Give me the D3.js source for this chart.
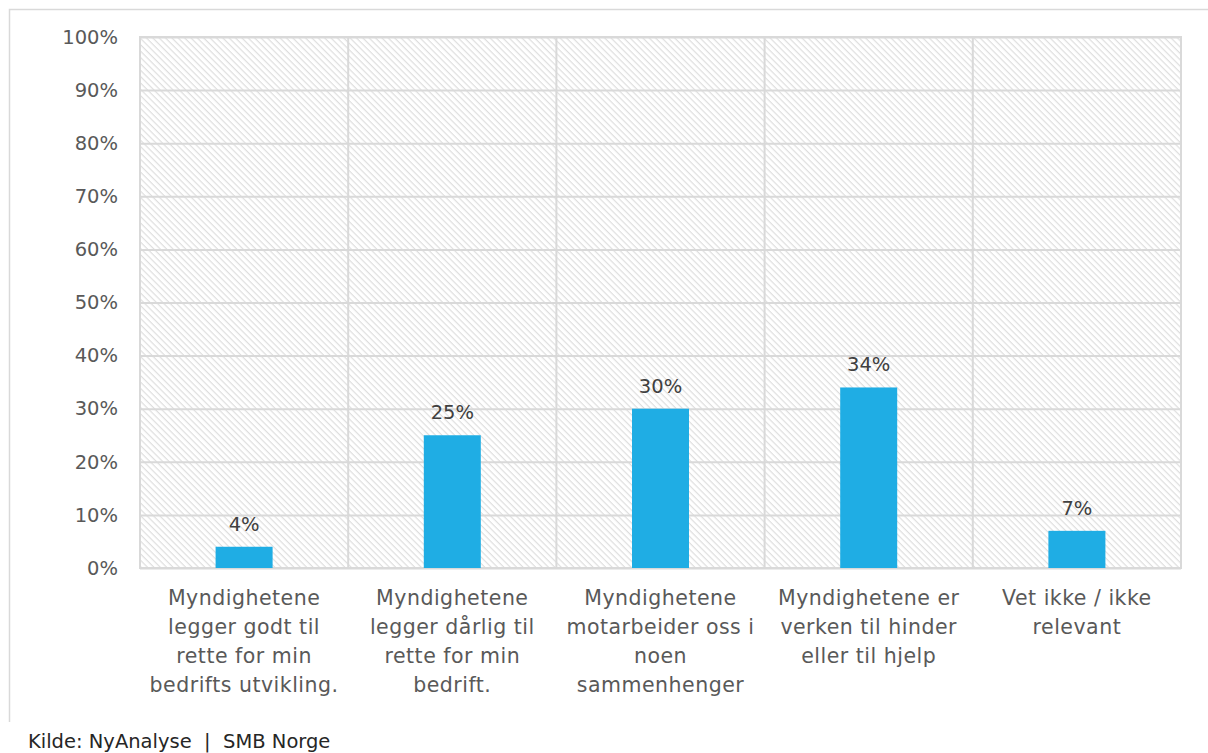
<!DOCTYPE html>
<html>
<head>
<meta charset="utf-8">
<script src="https://cdn.jsdelivr.net/npm/d3@7"></script>
<style>
  body { margin: 0; background: #fff; }
  #chart { width: 1208px; height: 753px; }
</style>
</head>
<body>
<div id="chart"></div>
<script>
// data
const categories = [
    ["Myndighetene", "legger godt til", "rette for min", "bedrifts utvikling."],
    ["Myndighetene", "legger dårlig til", "rette for min", "bedrift."],
    ["Myndighetene", "motarbeider oss i", "noen", "sammenhenger"],
    ["Myndighetene er", "verken til hinder", "eller til hjelp"],
    ["Vet ikke / ikke", "relevant"]
];
const values = [4, 25, 30, 34, 7];
const yTicks = [0, 10, 20, 30, 40, 50, 60, 70, 80, 90, 100];
const source = "Kilde: NyAnalyse  |  SMB Norge";

let divWidth = 1208, divHeight = 753;
let margin = { top: 37, left: 140, right: 27, bottom: 185 };
let width = divWidth - margin.left - margin.right;
let height = divHeight - margin.top - margin.bottom;
const font = "'DejaVu Sans', sans-serif";

let svg = d3.select("#chart").append("svg")
    .attr("width", divWidth)
    .attr("height", divHeight);

// hatch pattern (wide downward diagonal)
let defs = svg.append("defs");
let pat = defs.append("pattern")
    .attr("id", "hatch")
    .attr("patternUnits", "userSpaceOnUse")
    .attr("width", 4.5).attr("height", 4.5)
    .attr("patternTransform", "rotate(45)");
pat.append("rect").attr("width", 4.5).attr("height", 4.5).attr("fill", "#fff");
pat.append("line")
    .attr("x1", 0).attr("y1", 0.6).attr("x2", 4.5).attr("y2", 0.6)
    .attr("stroke", "#dedede").attr("stroke-width", 1.2);

// outer frame
svg.append("path")
    .attr("d", `M9.5,722 V9.5 H${divWidth}`)
    .attr("fill", "none")
    .attr("stroke", "#d9d9d9")
    .attr("stroke-width", 1.5);

let g = svg.append("g").attr("transform", `translate(${margin.left},${margin.top})`);

let x = d3.scaleBand().domain(d3.range(values.length)).range([0, width]).paddingInner(0).paddingOuter(0);
let y = d3.scaleLinear().domain([0, 100]).range([height, 0]);

g.append("rect")
    .attr("width", width).attr("height", height)
    .attr("fill", "url(#hatch)");

// gridlines
g.append("g")
    .call(d3.axisLeft(y).tickValues(yTicks).tickSize(-width).tickFormat(""))
    .call(a => a.select(".domain").remove())
    .call(a => a.selectAll("line").attr("stroke", "#d9d9d9").attr("stroke-width", 2));

g.append("g")
    .selectAll("line")
    .data(d3.range(1, values.length))
    .join("line")
    .attr("x1", d => x(d)).attr("x2", d => x(d))
    .attr("y1", 0).attr("y2", height)
    .attr("stroke", "#d9d9d9").attr("stroke-width", 2);

g.append("rect")
    .attr("width", width).attr("height", height)
    .attr("fill", "none")
    .attr("stroke", "#d9d9d9").attr("stroke-width", 2);

// y axis labels
g.append("g")
    .call(d3.axisLeft(y).tickValues(yTicks).tickSize(0).tickPadding(22).tickFormat(d => d + "%"))
    .call(a => a.select(".domain").remove())
    .call(a => a.selectAll("text")
        .attr("fill", "#595959")
        .attr("font-family", font)
        .attr("font-size", 19.5));

// bars
const barW = 57;
g.selectAll(".bar")
    .data(values)
    .join("rect")
    .attr("class", "bar")
    .attr("x", (d, i) => x(i) + x.bandwidth() / 2 - barW / 2)
    .attr("y", d => y(d))
    .attr("width", barW)
    .attr("height", d => height - y(d))
    .attr("fill", "#1fade4");

g.selectAll(".val")
    .data(values)
    .join("text")
    .attr("class", "val")
    .attr("x", (d, i) => x(i) + x.bandwidth() / 2)
    .attr("y", d => y(d) - 16)
    .attr("text-anchor", "middle")
    .attr("fill", "#404040")
    .attr("font-family", font)
    .attr("font-size", 19.5)
    .text(d => d + "%");

// category labels
let cat = g.selectAll(".cat")
    .data(categories)
    .join("text")
    .attr("class", "cat")
    .attr("text-anchor", "middle")
    .attr("fill", "#595959")
    .attr("font-family", font)
    .attr("font-size", 20.5)
    .attr("letter-spacing", 0.5);
cat.selectAll("tspan")
    .data((d, i) => d.map(t => ({ t, i })))
    .join("tspan")
    .attr("x", d => x(d.i) + x.bandwidth() / 2)
    .attr("y", (d, j) => height + 37 + j * 29)
    .text(d => d.t);

svg.append("text")
    .attr("x", 28)
    .attr("y", 748)
    .attr("fill", "#262626")
    .attr("font-family", font)
    .attr("font-size", 19.5)
    .attr("xml:space", "preserve")
    .style("white-space", "pre")
    .text(source);
</script>
</body>
</html>
